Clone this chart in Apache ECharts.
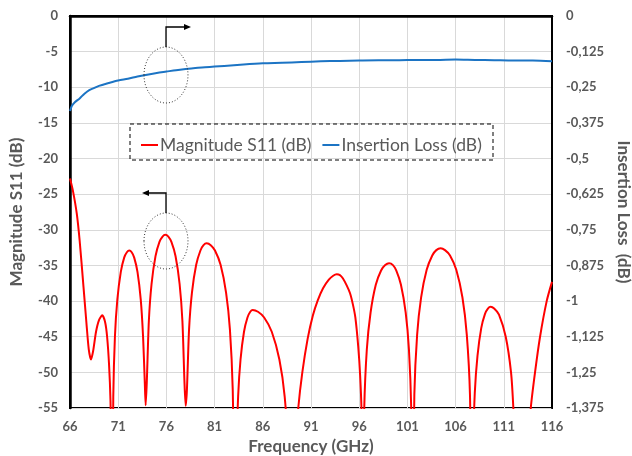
<!DOCTYPE html>
<html>
<head>
<meta charset="utf-8">
<script src="https://cdn.jsdelivr.net/npm/echarts@6/dist/echarts.min.js"></script>
<style>
  html, body { margin: 0; padding: 0; background: #fff; }
  #chart { width: 632px; height: 456px; }
</style>
</head>
<body>
<div id="chart"></div>
<script>
// tick labels
var xTicks = [66, 71, 76, 81, 86, 91, 96, 101, 106, 111, 116];

// Magnitude S11 (dB), left axis - values below -55 are clipped by the plot
var s11Freq = [66, 66.3, 66.7, 67.0, 67.4, 67.7, 67.95, 68.18, 68.4, 68.7, 69.0, 69.35, 69.65, 69.85, 70.05, 70.2, 70.3, 70.38,
    70.49, 70.66, 70.91, 71.27, 71.62, 71.9, 72.15, 72.4, 72.66, 73.0, 73.34, 73.58, 73.76, 73.85,
    73.97, 74.18, 74.46, 74.87, 75.28, 75.6, 75.89, 76.2, 76.52, 76.95, 77.37, 77.66, 77.87, 78.0,
    78.13, 78.35, 78.65, 79.09, 79.53, 79.85, 80.18, 80.6, 81.04, 81.62, 82.19, 82.59, 82.88, 83.1,
    83.26, 83.44, 83.69, 84.05, 84.41, 84.7, 84.95, 85.5, 86.14, 86.93, 87.72, 88.27, 88.66, 88.95,
    89.45, 89.68, 90.1, 90.65, 91.2, 91.7, 92.25, 92.85, 93.3, 93.67, 94.0, 94.3, 94.7, 95.05, 95.35, 95.6, 95.9, 96.1, 96.25, 96.35,
    96.52, 96.79, 97.18, 97.72, 98.27, 98.7, 99.1, 99.5, 99.84, 100.33, 100.82, 101.16, 101.4, 101.55,
    101.72, 102.01, 102.42, 103.0, 103.58, 104.0, 104.45, 104.9, 105.42, 106.07, 106.71, 107.16, 107.49, 107.68,
    107.8, 107.99, 108.27, 108.66, 109.05, 109.35, 109.64, 110.0, 110.5, 111.2, 111.75, 111.99, 112.3, 112.8,
    113.3, 113.8, 114.24, 114.76, 115.45, 116];
var s11Values = [-22.8, -24.5, -27.7, -31.5, -38.0, -43.0, -46.8, -48.2, -47.0, -44.3, -42.7, -42.0, -43.0, -45.0, -48.9, -54.0, -62.0, -72,
    -53.4, -45.0, -39.8, -35.9, -33.9, -33.15, -32.9, -33.15, -33.9, -35.9, -39.8, -45.0, -51.5, -54.6,
    -51.2, -42.8, -37.6, -33.7, -31.7, -30.95, -30.7, -30.95, -31.7, -33.7, -37.6, -42.8, -51.2, -54.7,
    -52.4, -44.0, -38.8, -34.9, -32.9, -32.15, -31.9, -32.15, -32.9, -34.9, -38.8, -44.0, -52.4, -72,
    -61.7, -53.4, -48.2, -44.3, -42.3, -41.5, -41.25, -41.5, -42.3, -44.3, -48.2, -53.4, -61.7, -75,
    -60.0, -55.0, -50.0, -45.3, -42.0, -39.9, -38.2, -37.0, -36.45, -36.25, -36.35, -36.8, -37.8, -38.9, -40.5, -42.3, -46.4, -50.5, -56.0, -72,
    -55.2, -46.8, -41.6, -37.7, -35.7, -34.95, -34.7, -34.95, -35.7, -37.7, -41.6, -46.8, -55.2, -72,
    -53.1, -44.7, -39.5, -35.6, -33.6, -32.85, -32.6, -32.85, -33.6, -35.6, -39.5, -44.7, -53.1, -72,
    -61.3, -52.9, -47.7, -43.8, -41.8, -41.05, -40.8, -41.05, -41.9, -45.0, -50.0, -55.0, -65.0, -75,
    -65.0, -55.0, -50.0, -45.0, -40.0, -37.3];

// Insertion Loss (dB), right axis
var ilFreq = [66, 66.2, 66.5, 67, 67.5, 68, 68.4, 69, 70, 71, 72, 73, 74, 75, 76, 77, 78, 79, 80, 81, 82, 84, 86, 88, 90,
    92, 94, 96, 98, 100, 102, 104, 106, 108, 110, 112, 114, 116];
var ilValues = [-0.333, -0.315, -0.3025, -0.289, -0.2725, -0.26, -0.254, -0.245, -0.235, -0.226, -0.22, -0.2125, -0.206,
    -0.2, -0.195, -0.19, -0.186, -0.1825, -0.18, -0.1775, -0.175, -0.17, -0.166, -0.164, -0.1615,
    -0.159, -0.1575, -0.156, -0.155, -0.155, -0.154, -0.154, -0.1525, -0.154, -0.155, -0.156, -0.156, -0.159];

var s11Data = [], ilData = [];
for (var i = 0; i < s11Freq.length; i++) s11Data.push([s11Freq[i], s11Values[i]]);
for (var j = 0; j < ilFreq.length; j++) ilData.push([ilFreq[j], ilValues[j]]);

var gray = '#595959';
var font = 'Lato';
function comma(v) { return String(v).replace('.', ','); }

var chart = echarts.init(document.getElementById('chart'));
var option = {
    animation: false,
    textStyle: { fontFamily: font },
    grid: { left: 70, right: 80, top: 16, bottom: 48, show: true, borderColor: '#000', borderWidth: 2,
        containLabel: false, outerBoundsMode: 'none' },
    legend: {
        data: ['Magnitude S11 (dB)', 'Insertion Loss (dB)'],
        left: 136, top: 131,
        itemWidth: 17, itemHeight: 2, itemGap: 11,
        icon: 'rect',
        textStyle: { color: gray, fontSize: 17.5, fontFamily: font, padding: [0, 0, 0, -3] }
    },
    xAxis: {
        type: 'value', min: 66, max: 116, interval: 5,
        name: 'Frequency (GHz)', nameLocation: 'middle', nameGap: 27,
        nameTextStyle: { color: gray, fontSize: 17, fontWeight: 'bold' },
        axisLine: { lineStyle: { color: '#000', width: 2.5 } },
        axisTick: { show: false },
        axisLabel: { color: gray, fontSize: 13, fontWeight: 'bold', margin: 12 },
        splitLine: { lineStyle: { color: '#d9d9d9', width: 1 } }
    },
    yAxis: [{
        type: 'value', min: -55, max: 0, interval: 5,
        name: 'Magnitude S11 (dB)', nameLocation: 'middle', nameGap: 45,
        nameTextStyle: { color: gray, fontSize: 17, fontWeight: 'bold' },
        axisLine: { show: true, lineStyle: { color: '#000', width: 2.5 } },
        axisTick: { show: false },
        axisLabel: { color: gray, fontSize: 13, fontWeight: 'bold', margin: 12 },
        splitLine: { lineStyle: { color: '#d9d9d9', width: 1 } }
    }, {
        type: 'value', min: -1.375, max: 0, interval: 0.125, position: 'right',
        name: 'Insertion Loss  (dB)', nameLocation: 'middle', nameGap: 62, nameRotate: -90,
        nameTextStyle: { color: gray, fontSize: 17, fontWeight: 'bold' },
        axisLine: { show: true, lineStyle: { color: '#000', width: 2 } },
        axisTick: { show: false },
        axisLabel: { color: gray, fontSize: 13, fontWeight: 'bold', margin: 14, formatter: comma },
        splitLine: { show: false }
    }],
    series: [{
        name: 'Magnitude S11 (dB)', type: 'line', data: s11Data, yAxisIndex: 0,
        showSymbol: false, smooth: 0.25, clip: true,
        lineStyle: { color: '#ff0000', width: 2 }, itemStyle: { color: '#ff0000' }
    }, {
        name: 'Insertion Loss (dB)', type: 'line', data: ilData, yAxisIndex: 1,
        showSymbol: false, smooth: 0.3,
        lineStyle: { color: '#1c74c4', width: 2 }, itemStyle: { color: '#1c74c4' }
    }],
    graphic: [
        // legend dashed box
        { type: 'rect', shape: { x: 130, y: 124, width: 363, height: 36 },
          style: { fill: 'none', stroke: '#000', lineWidth: 1, lineDash: [4, 3] }, z: 5 },
        // upper annotation -> right axis
        { type: 'ellipse', shape: { cx: 166, cy: 75, rx: 22, ry: 28 },
          style: { fill: 'none', stroke: '#333', lineWidth: 1, lineDash: [1, 2] }, z: 5 },
        { type: 'polyline', shape: { points: [[166, 47], [166, 27], [186, 27]] },
          style: { stroke: '#000', lineWidth: 1.3, fill: 'none' }, z: 5 },
        { type: 'polygon', shape: { points: [[191, 27], [184, 24], [184, 30]] },
          style: { fill: '#000' }, z: 5 },
        // lower annotation -> left axis
        { type: 'ellipse', shape: { cx: 166, cy: 241, rx: 22, ry: 28 },
          style: { fill: 'none', stroke: '#333', lineWidth: 1, lineDash: [1, 2] }, z: 5 },
        { type: 'polyline', shape: { points: [[166, 213], [166, 193], [147, 193]] },
          style: { stroke: '#000', lineWidth: 1.3, fill: 'none' }, z: 5 },
        { type: 'polygon', shape: { points: [[142, 193], [149, 190], [149, 196]] },
          style: { fill: '#000' }, z: 5 }
    ]
};
chart.setOption(option);
</script>
</body>
</html>
